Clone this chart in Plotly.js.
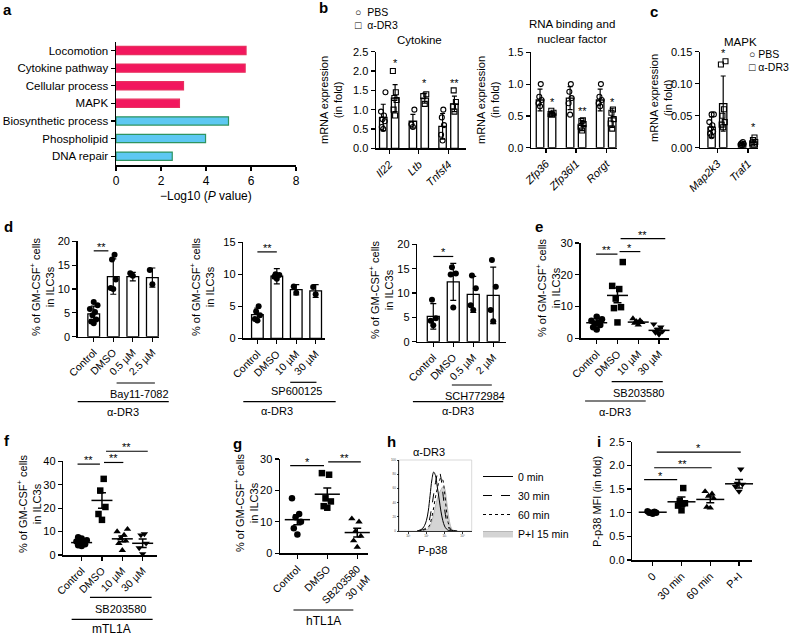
<!DOCTYPE html>
<html><head><meta charset="utf-8">
<script src="https://cdn.plot.ly/plotly-3.0.1.min.js"></script>
<style>html,body{margin:0;padding:0;background:#fff}#chart{width:800px;height:636px}</style>
</head><body><div id="chart"></div>
<script>
// ================= DATA =================
// a
const aTerms = ['Locomotion','Cytokine pathway','Cellular process','MAPK','Biosynthetic process','Phospholipid','DNA repair'];
const aValues = [5.78, 5.74, 3.0, 2.82, 5.0, 3.98, 2.5];
const aDirection = ['up','up','up','up','down','down','down'];
// b cytokine
const bCytoGenes = ['Il22','Ltb','Tnfsf4'];
const bCytoPBSMean = [0.8, 0.7, 0.57];
const bCytoPBSSd = [0.34, 0.18, 0.33];
const bCytoDR3Mean = [1.3, 1.3, 1.15];
const bCytoDR3Sd = [0.35, 0.13, 0.2];
const bCytoPBSPts = [[0.5,0.55,0.7,0.75,0.85,0.95,1.45],[0.55,0.62,1.0],[0.2,0.35,0.6,0.8,1.0]];
const bCytoDR3Pts = [[0.85,1.0,1.25,1.3,1.45,2.0],[1.15,1.35,1.4],[0.95,1.08,1.2,1.5]];
const bCytoStars = ['*','*','**'];
const bCytoStarY = [2.2, 1.7, 1.7];
// b RNA binding
const bRnaGenes = ['Zfp36','Zfp36l1','Rorgt'];
const bRnaPBSMean = [0.75, 0.78, 0.75];
const bRnaPBSSd = [0.17, 0.18, 0.17];
const bRnaDR3Mean = [0.53, 0.35, 0.47];
const bRnaDR3Sd = [0.03, 0.08, 0.15];
const bRnaPBSPts = [[0.65,0.7,0.75,0.8,1.0],[0.52,0.7,0.78,0.88,1.0],[0.65,0.7,0.75,0.8,1.0]];
const bRnaDR3Pts = [[0.52,0.53,0.55,0.58],[0.27,0.33,0.37,0.42,0.43],[0.3,0.38,0.45,0.55,0.6]];
const bRnaStars = ['*','**','*'];
const bRnaStarY = [0.72, 0.58, 0.72];
// c MAPK
const cGenes = ['Map2k3','Traf1'];
const cPBSMean = [0.032, 0.006];
const cPBSSd = [0.016, 0.002];
const cDR3Mean = [0.069, 0.009];
const cDR3Sd = [0.043, 0.004];
const cPBSPts = [[0.018,0.022,0.025,0.03,0.035,0.04,0.052,0.052],[0.004,0.005,0.006,0.007,0.009]];
const cDR3Pts = [[0.032,0.036,0.04,0.05,0.06,0.13,0.135],[0.005,0.007,0.009,0.012,0.016]];
const cStars = ['*','*'];
const cStarY = [0.148, 0.032];
// d1 Bay11-7082
const d1Cats = ['Control','DMSO','0.5 µM','2.5 µM'];
const d1Mean = [4.8, 12.6, 12.6, 12.4];
const d1Sd = [1.6, 3.7, 0.9, 2.0];
const d1Pts = [[2.8,3.2,3.6,4.5,5.2,5.8,6.6,7.3],[10,10.2,12,16.2,17.2],[12.8,13.3],[11,14]];
const d1Sig = [[0, 0.75, 18, '**']];
// d2 SP600125
const d2Cats = ['Control','DMSO','10 µM','30 µM'];
const d2Mean = [3.7, 9.7, 7.6, 7.4];
const d2Sd = [1.0, 1.2, 0.8, 1.0];
const d2Pts = [[2.8,3.0,3.6,4.2,5.0],[9.3,9.6,9.9,10.0],[7.1,8.1],[6.9,8.0]];
const d2Sig = [[0, 1, 13.5, '**']];
// d3 SCH772984
const d3Cats = ['Control','DMSO','0.5 µM','2 µM'];
const d3Mean = [5.2, 12.3, 9.7, 9.5];
const d3Sd = [2.6, 3.8, 3.7, 5.8];
const d3Pts = [[3.4,4.3,4.8,8.6],[7.0,13.8,14.0,15.3],[6.5,7.5,11.0,13.6],[4.2,6.5,11.3,16.8]];
const d3Sig = [[0, 1, 17.5, '*']];
// e SB203580 (α-DR3)
const eCats = ['Control','DMSO','10 µM','30 µM'];
const ePts = [[2.8,3.5,4.2,4.6,5.0,5.5,6.0,6.8],[5,9.5,9.8,12.5,15.5,16.5,24],[4.2,4.8,5.0,5.3,5.6,6.2],[1.2,1.8,2.2,2.8,3.5,4.5]];
const eMean = [4.9, 13.5, 5.1, 2.5];
const eSem = [0.5, 2.3, 0.4, 0.6];
const eSig = [[-0.03, 1.0, 26.5, '**'], [1.1, 2.1, 27.3, '*'], [1.15, 3.3, 31.4, '**']];
// f mTL1A
const fCats = ['Control','DMSO','10 µM','30 µM'];
const fPts = [[3.8,4.2,4.6,5.0,5.4,5.8,6.3,7.0,7.6],[15,17.5,20.5,27.5,32.5],[2,5,6,7,8.5,10,11],[0.5,3,5,8.5,9]];
const fMean = [5.3, 23.3, 6.9, 5.0];
const fSem = [0.4, 3.3, 1.2, 1.8];
const fSig = [[-0.2, 0.9, 38.8, '**'], [1.1, 2.05, 39.5, '**'], [1.2, 3.25, 44.3, '**']];
// g hTL1A
const gCats = ['Control','DMSO','SB203580<br>30 µM'];
const gPts = [[6,8,10,11.5,12.5,17.5],[14.5,15,16.5,17.5,25,25.5],[2,4,5.5,7,10,11]];
const gMean = [10.7, 18.8, 6.6];
const gSem = [1.6, 2.0, 1.4];
const gSig = [[-0.24, 0.89, 27.9, '*'], [1.03, 2.12, 29.1, '**']];
// h histogram (log10 fluorescence)
const hX = [1.0,1.1,1.2,1.3,1.4,1.5,1.6,1.7,1.8,1.9,2.0,2.1,2.2,2.3,2.4,2.5,2.6,2.7,2.8,2.9,3.0,3.1,3.2];
const h0min  = [0,1,2,4,8,15,28,50,72,83,78,62,45,28,15,7,3,1,0.5,0,0,0,0];
const h30min = [0,0,1,2,3,5,10,20,35,52,68,80,85,75,55,32,15,6,2,1,0,0,0];
const h60min = [0,0,0,1,2,3,5,10,20,33,48,60,70,75,72,55,30,12,4,1,0,0,0];
const hPI    = [0,0,0,0,1,2,3,7,14,24,35,45,53,58,62,60,45,25,10,3,1,0,0];
const hNames = ['0 min','30 min','60 min','P+I 15 min'];
// i
const iCats = ['0','30 min','60 min','P+I'];
const iPts = [[0.98,1.0,1.0,1.0,1.02,1.03],[1.05,1.15,1.2,1.25,1.52],[1.1,1.12,1.3,1.35,1.4,1.45],[1.45,1.55,1.6,1.62,1.92]];
const iMean = [1.01, 1.23, 1.28, 1.61];
const iSem = [0.01, 0.1, 0.07, 0.09];
const iSig = [[-0.3, 0.85, 1.7, '*'], [0.05, 2.05, 1.95, '**'], [0.14, 3.06, 2.28, '*']];

// ================= LAYOUT HELPERS =================
const FONT = 'Liberation Sans, Arial, Helvetica, sans-serif';
const W = 800, H = 636;
const BOX = {
  a:  {ax:1,  x:[116,296],    y:[41.7,165],    xr:[0,8],          yr:[6.5,-0.5]},
  b1: {ax:2,  x:[376,466],    y:[51.7,148.3],  xr:[-0.444,2.59],  yr:[0,2.5]},
  b2: {ax:3,  x:[531,617],    y:[52.3,147.7],  xr:[-0.5,2.36],    yr:[0,1.5]},
  c:  {ax:4,  x:[700,758],    y:[51.7,147.7],  xr:[-0.57,1.33],   yr:[0,0.15]},
  d1: {ax:5,  x:[77.7,159],   y:[241.3,336.7], xr:[-0.82,3.34],   yr:[0,20]},
  d2: {ax:6,  x:[243.3,325],  y:[242.3,338.3], xr:[-0.725,3.48],  yr:[0,15]},
  d3: {ax:7,  x:[417.3,506],  y:[244.3,341.7], xr:[-0.8,3.64],    yr:[0,20]},
  e:  {ax:8,  x:[580.5,669],  y:[243,338.3],   xr:[-0.78,3.48],   yr:[0,30]},
  f:  {ax:9,  x:[63.3,156.7], y:[461.3,555],   xr:[-0.9,3.69],    yr:[0,40]},
  g:  {ax:10, x:[280,368.3],  y:[459,553.3],   xr:[-0.58,2.37],   yr:[0,30]},
  h:  {ax:11, x:[399.3,471.7],y:[460,531],     xr:[0,4],          yr:[0,100]},
  i:  {ax:12, x:[632.3,751.7],y:[441.7,560],   xr:[-0.71,3.44],   yr:[0,2.5]}
};
const sfx = b => b.ax === 1 ? '' : String(b.ax);
const AX = b => ({xaxis:'x'+sfx(b), yaxis:'y'+sfx(b)});
const X = (b,v) => b.x[0] + (v-b.xr[0])/(b.xr[1]-b.xr[0])*(b.x[1]-b.x[0]);
const Y = (b,v) => b.y[1] - (v-b.yr[0])/(b.yr[1]-b.yr[0])*(b.y[1]-b.y[0]);
const JIT = [0,-1,1,-0.5,0.5,-1.5,1.5,0,-1,1];
const jit = (k,s) => JIT[k % JIT.length]*s;

const layout = {
  width: W, height: H, margin:{l:0,r:0,t:0,b:0}, paper_bgcolor:'white', plot_bgcolor:'rgba(0,0,0,0)',
  font:{family:FONT, size:11, color:'black'}, showlegend:true, bargap:0,
  annotations:[], shapes:[],
  legend:{x:478/W, y:1-462/H, xanchor:'left', yanchor:'top', font:{family:FONT,size:10.5,color:'black'},
          bgcolor:'rgba(0,0,0,0)', itemwidth:30, tracegroupgap:0}
};
const baseAx = {showline:true, linecolor:'black', linewidth:1.5, ticks:'outside', ticklen:4, tickwidth:1.2,
  tickcolor:'black', showgrid:false, zeroline:false, fixedrange:true, tickfont:{family:FONT,size:11,color:'black'}};
function mkAxes(b, xo, yo){
  const s = sfx(b);
  layout['xaxis'+s] = Object.assign({}, baseAx, {domain:[b.x[0]/W, b.x[1]/W], range:b.xr, anchor:'y'+s}, xo||{});
  layout['yaxis'+s] = Object.assign({}, baseAx, {domain:[1-b.y[1]/H, 1-b.y[0]/H], range:b.yr, anchor:'x'+s}, yo||{});
}
function ann(text, xp, yp, o){
  layout.annotations.push(Object.assign({text, x:xp/W, y:1-yp/H, xref:'paper', yref:'paper', showarrow:false,
    font:{family:FONT,size:11,color:'black'}, xanchor:'center', yanchor:'middle'}, o||{}));
}
function seg(x0,y0,x1,y1,w){
  layout.shapes.push({type:'line', xref:'paper', yref:'paper', x0:x0/W, x1:x1/W, y0:1-y0/H, y1:1-y1/H,
    line:{color:'black', width:w||1.2}});
}
const STAR = {family:FONT,size:11,color:'black'};
function sig(b, list){
  list.forEach(([c0,c1,v,lab]) => {
    const yp = Y(b,v);
    seg(X(b,c0), yp, X(b,c1), yp, 1.2);
    ann(lab, (X(b,c0)+X(b,c1))/2, yp-4, {font:STAR});
  });
}
const traces = [];
const catAx = (cats, size) => ({tickmode:'array', tickvals:cats.map((_,i)=>i), ticktext:cats, tickangle:-45,
  tickfont:{family:FONT,size:size||10.5,color:'black'}});

// ================= PANEL a =================
mkAxes(BOX.a, {tickmode:'array', tickvals:[0,2,4,6,8], tickfont:{family:FONT,size:12,color:'black'}},
  {tickmode:'array', tickvals:aTerms.map((_,i)=>i), ticktext:aTerms, tickfont:{family:FONT,size:11.5,color:'black'}});
traces.push(Object.assign({type:'bar', orientation:'h', y:aTerms.map((_,i)=>i), x:aValues, width:0.47,
  marker:{color:aDirection.map(d=>d==='up'?'#F2175E':'#5DC8F2'),
          line:{color:aDirection.map(d=>d==='up'?'#E8305F':'#2F9460'), width:1.2}},
  hoverinfo:'skip', showlegend:false}, AX(BOX.a)));
ann('\u2212Log10 (<i>P</i> value)', 206, 196, {font:{family:FONT,size:12,color:'black'}});

// ================= PANELS b, c (grouped bars) =================
function pairPanel(b, genes, pM, pSd, dM, dSd, pPts, dPts, stars, starY, off, bw, tickfmt, dtick){
  mkAxes(b, Object.assign(catAx(genes.map(g=>'<i>'+g+'</i>'), 11)),
            {dtick:dtick, tickformat:tickfmt});
  const a = AX(b);
  const bar = (xs, m, sd) => Object.assign({type:'bar', x:xs, y:m, width:bw,
    marker:{color:'white', line:{color:'black', width:1.3}},
    error_y:{type:'data', array:sd, visible:true, color:'black', thickness:1.2, width:2.5},
    hoverinfo:'skip', showlegend:false}, a);
  const xp = genes.map((_,i)=>i-off), xd = genes.map((_,i)=>i+off);
  traces.push(bar(xp, pM, pSd), bar(xd, dM, dSd));
  const pts = (groups, xs, sym) => {
    const x=[], y=[];
    groups.forEach((arr,gi)=>arr.forEach((v,k)=>{x.push(xs[gi]+jit(k,0.05)); y.push(v);}));
    return Object.assign({type:'scatter', mode:'markers', x, y, cliponaxis:false,
      marker:{symbol:sym, size:5, color:'black', line:{width:1.1}}, hoverinfo:'skip', showlegend:false}, a);
  };
  traces.push(pts(pPts, xp, 'circle-open'), pts(dPts, xd, 'square-open'));
  stars.forEach((s,i)=>ann(s, X(b, xd[i]), Y(b, starY[i]), {font:STAR}));
}
pairPanel(BOX.b1, bCytoGenes, bCytoPBSMean, bCytoPBSSd, bCytoDR3Mean, bCytoDR3Sd, bCytoPBSPts, bCytoDR3Pts, bCytoStars, bCytoStarY, 0.2, 0.25, '.1f', 0.5);
pairPanel(BOX.b2, bRnaGenes, bRnaPBSMean, bRnaPBSSd, bRnaDR3Mean, bRnaDR3Sd, bRnaPBSPts, bRnaDR3Pts, bRnaStars, bRnaStarY, 0.2, 0.25, '.1f', 0.5);
pairPanel(BOX.c, cGenes, cPBSMean, cPBSSd, cDR3Mean, cDR3Sd, cPBSPts, cDR3Pts, cStars, cStarY, 0.19, 0.24, '.2f', 0.05);

ann('Cytokine', 419, 40, {font:{family:FONT,size:11.5,color:'black'}});
ann('RNA binding and<br>nuclear factor', 572, 32, {font:{family:FONT,size:11.5,color:'black'}});
ann('MAPK', 740, 42, {font:{family:FONT,size:11.5,color:'black'}});
const legTxt = {family:FONT,size:10.5,color:'black'};
ann('\u25CB  PBS', 353, 12, {xanchor:'left', font:legTxt});
ann('\u25A1  \u03B1-DR3', 353, 25, {xanchor:'left', font:legTxt});
ann('\u25CB PBS', 747, 54, {xanchor:'left', font:legTxt});
ann('\u25A1 \u03B1-DR3', 747, 67, {xanchor:'left', font:legTxt});
const mRNA = 'mRNA expression<br>(in fold)';
ann(mRNA, 331, 100, {textangle:-90});
ann(mRNA, 488, 100, {textangle:-90});
ann(mRNA, 661, 98, {textangle:-90});

// ================= PANEL d (bars + dots) =================
function barDotPanel(b, cats, m, sd, pts, dtick, sigs){
  mkAxes(b, catAx(cats), {dtick:dtick});
  const a = AX(b);
  traces.push(Object.assign({type:'bar', x:cats.map((_,i)=>i), y:m, width:0.6,
    marker:{color:'white', line:{color:'black', width:1.3}},
    error_y:{type:'data', array:sd, visible:true, color:'black', thickness:1.2, width:3},
    hoverinfo:'skip', showlegend:false}, a));
  const x=[], y=[];
  pts.forEach((arr,gi)=>arr.forEach((v,k)=>{x.push(gi+jit(k,0.13)); y.push(v);}));
  traces.push(Object.assign({type:'scatter', mode:'markers', x, y, cliponaxis:false,
    marker:{symbol:'circle', size:6, color:'black'}, hoverinfo:'skip', showlegend:false}, a));
  sig(b, sigs);
}
barDotPanel(BOX.d1, d1Cats, d1Mean, d1Sd, d1Pts, 5, d1Sig);
barDotPanel(BOX.d2, d2Cats, d2Mean, d2Sd, d2Pts, 5, d2Sig);
barDotPanel(BOX.d3, d3Cats, d3Mean, d3Sd, d3Pts, 5, d3Sig);

// ================= PANELS e, f, g, i (dots + mean ± SEM) =================
function dotPanel(b, cats, groups, syms, mean, sem, dtick, meanSize, js, sigs, tickfmt, catSize){
  mkAxes(b, catAx(cats, catSize), {dtick:dtick, tickformat:tickfmt||''});
  const a = AX(b);
  groups.forEach((arr,gi)=>{
    traces.push(Object.assign({type:'scatter', mode:'markers', x:arr.map((_,k)=>gi+jit(k,js)), y:arr,
      cliponaxis:false, marker:{symbol:syms[gi], size:6.5, color:'black'}, hoverinfo:'skip', showlegend:false}, a));
  });
  traces.push(Object.assign({type:'scatter', mode:'markers', x:cats.map((_,i)=>i), y:mean, cliponaxis:false,
    marker:{symbol:'line-ew', size:meanSize, color:'black', line:{color:'black', width:1.5}},
    error_y:{type:'data', array:sem, visible:true, color:'black', thickness:1.5, width:4},
    hoverinfo:'skip', showlegend:false}, a));
  sig(b, sigs);
}
const SYM4 = ['circle','square','triangle-up','triangle-down'];
dotPanel(BOX.e, eCats, ePts, SYM4, eMean, eSem, 10, 15, 0.17, eSig);
dotPanel(BOX.f, fCats, fPts, SYM4, fMean, fSem, 10, 15, 0.17, fSig);
dotPanel(BOX.g, gCats, gPts, SYM4, gMean, gSem, 10, 18, 0.12, gSig);
dotPanel(BOX.i, iCats, iPts, SYM4, iMean, iSem, 0.5, 20, 0.12, iSig, '.1f', 11);

const gm = '% of GM-CSF<sup>+</sup> cells<br>in ILC3s';
ann(gm, 42, 287, {textangle:-90});
ann(gm, 202, 287, {textangle:-90});
ann(gm, 381, 290, {textangle:-90});
ann(gm, 548, 288, {textangle:-90});
ann(gm, 29, 503, {textangle:-90});
ann(gm, 246, 503, {textangle:-90});
ann('P-p38 MFI (in fold)', 597, 502, {textangle:-90});

// group labels under the axes: [panel, from, to, line y px, label, label pos (cat), label y px, size]
const groupLabels = [
  ['d1', 1.17, 3.13, 383,   'Bay11-7082', 2.36, 394,   11],
  ['d1', -0.82, 3.84, 401.7, '\u03B1-DR3', 1.49, 411.5, 11],
  ['d2', 1.69, 3.04, 382.3, 'SP600125',   2.0,  391,   11],
  ['d2', -0.725, 4.03, 401.7,'\u03B1-DR3', 1.0,  411,   11],
  ['d3', 0.93, 2.93, 385,   'SCH772984',  2.09, 396,   11],
  ['d3', -1.02, 3.5, 401.7, '\u03B1-DR3', 1.24, 411,   11],
  ['e',  0.72, 3.18, 381.7, 'SB203580',   2.0,  392.7, 11],
  ['e',  -0.56, 2.36, 401,  '\u03B1-DR3', 0.88, 412,   11],
  ['f',  0.41, 3.44, 597.3, 'SB203580',   1.92, 609.3, 11],
  ['f',  -0.49, 3.49, 619.3,'mTL1A',      1.47, 628.5, 12],
  ['g',  -0.13, 1.87, 610,  'hTL1A',      0.87, 621,   12]
];
groupLabels.forEach(([p,c0,c1,yl,lab,cl,yt,fs])=>{
  const b = BOX[p];
  seg(X(b,c0), yl, X(b,c1), yl, 1.2);
  ann(lab, X(b,cl), yt, {font:{family:FONT,size:fs,color:'black'}});
});

// ================= PANEL h (histogram) =================
mkAxes(BOX.h,
  {tickmode:'array', tickvals:[0.5,1.5,2.5,3.5], ticktext:['10\u00B9','10\u00B2','10\u00B3','10\u2074'], ticklen:2, tickwidth:0.8,
   linewidth:0.8, tickfont:{family:FONT,size:3,color:'#444'}},
  {tickmode:'array', tickvals:[0,20,40,60,80,100], ticktext:['0','20','40','60','80','100'], ticklen:2, tickwidth:0.8,
   linewidth:0.8, tickfont:{family:FONT,size:3,color:'#444'}});
layout.shapes.push({type:'rect', xref:'paper', yref:'paper', x0:BOX.h.x[0]/W, x1:BOX.h.x[1]/W,
  y0:1-BOX.h.y[1]/H, y1:1-BOX.h.y[0]/H, line:{color:'#cfcfcf', width:0.8}, layer:'below'});
const ha = AX(BOX.h);
traces.push(Object.assign({type:'scatter', mode:'lines', x:hX, y:hPI, name:hNames[3], legendrank:4,
  fill:'tozeroy', fillcolor:'#d4d4d4', line:{color:'#a8a8a8', width:0.8, shape:'spline'}, hoverinfo:'skip'}, ha));
traces.push(Object.assign({type:'scatter', mode:'lines', x:hX, y:h60min, name:hNames[2], legendrank:3,
  line:{color:'black', width:1, dash:'dot', shape:'spline'}, hoverinfo:'skip'}, ha));
traces.push(Object.assign({type:'scatter', mode:'lines', x:hX, y:h30min, name:hNames[1], legendrank:2,
  line:{color:'black', width:1, dash:'dash', shape:'spline'}, hoverinfo:'skip'}, ha));
traces.push(Object.assign({type:'scatter', mode:'lines', x:hX, y:h0min, name:hNames[0], legendrank:1,
  line:{color:'black', width:1, shape:'spline'}, hoverinfo:'skip'}, ha));
ann('\u03B1-DR3', 429, 452);
ann('P-p38', 432, 550);

// ================= PANEL LETTERS =================
const letters = [['a',1,9],['b',317,8],['c',648,12],['d',2,227],['e',533,226],['f',2,440],['g',231,443],['h',385,441],['i',595,441]];
letters.forEach(([t,x,y])=>ann('<b>'+t+'</b>', x, y, {xanchor:'left', font:{family:FONT,size:15,color:'black'}}));

Plotly.newPlot('chart', traces, layout, {staticPlot:true, displayModeBar:false});
</script></body></html>
